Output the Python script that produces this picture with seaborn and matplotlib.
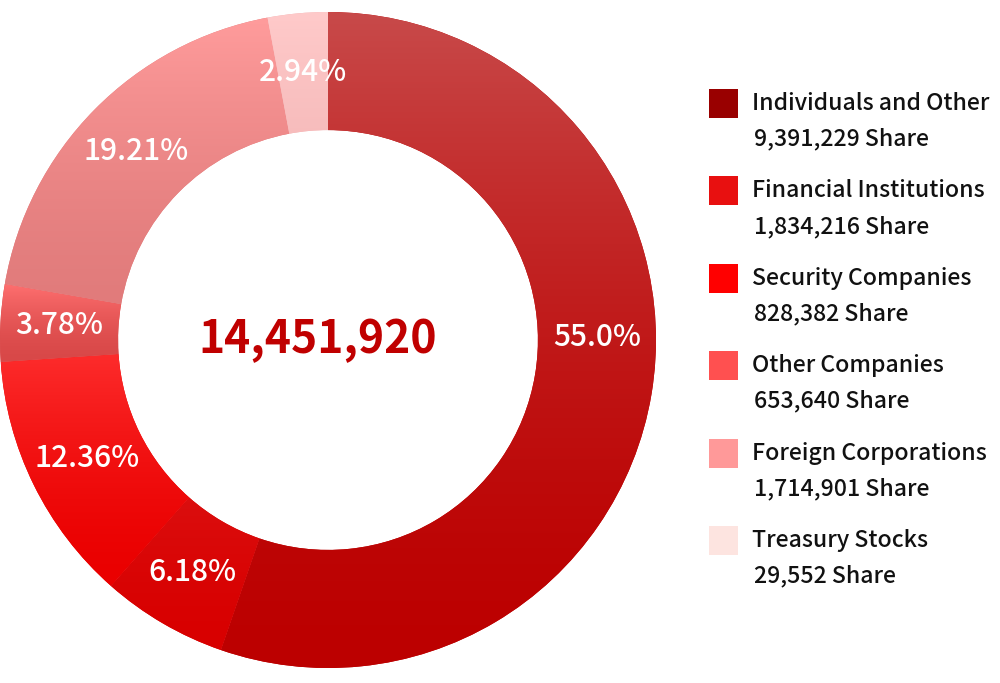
import numpy as np
import matplotlib.pyplot as plt
import matplotlib.colors as mcolors
from matplotlib.patches import Rectangle
import seaborn as sns

sns.set_style('white')
plt.rcParams['font.family'] = ['Noto Sans CJK JP', 'DejaVu Sans']

categories = ['Individuals and Other', 'Financial Institutions', 'Security Companies',
              'Other Companies', 'Foreign Corporations', 'Treasury Stocks']
shares = ['9,391,229', '1,834,216', '828,382', '653,640', '1,714,901', '29,552']
percents = [55.0, 6.18, 12.36, 3.78, 19.21, 2.94]
pct_labels = ['55.0%', '6.18%', '12.36%', '3.78%', '19.21%', '2.94%']
total_label = '14,451,920'

legend_colors = ['#990000', '#e81010', '#ff0000', '#ff5050', '#ff9999', '#fde4e0']
grad_top = ['#c84a4a', '#e22e2e', '#ff3030', '#ff7070', '#ff9c9c', '#ffcaca']
grad_bottom = ['#bc0000', '#d80000', '#ea0000', '#d84848', '#e07a7a', '#f0b0b0']

fig = plt.figure(figsize=(10, 6.83), dpi=100)
ax = fig.add_axes([0, 15 / 683, 656 / 1000, 656 / 683])

wedges, _ = ax.pie(percents, radius=1, startangle=90, counterclock=False,
                   colors=grad_bottom, wedgeprops=dict(width=0.36, linewidth=0))

# vertical gradient inside each wedge
for w, ctop, cbot in zip(wedges, grad_top, grad_bottom):
    verts = w.get_path().vertices
    x0, x1 = verts[:, 0].min(), verts[:, 0].max()
    y0, y1 = verts[:, 1].min(), verts[:, 1].max()
    t = np.linspace(0, 1, 256)[:, None] ** 1.6
    c0 = np.array(mcolors.to_rgb(cbot))
    c1 = np.array(mcolors.to_rgb(ctop))
    img = (c0 + (c1 - c0) * t)[:, None, :].repeat(2, axis=1)
    im = ax.imshow(img, extent=[x0, x1, y0, y1], origin='lower',
                   aspect='auto', interpolation='bilinear', zorder=2)
    im.set_clip_path(w)

# percentage labels
for i, (w, lab) in enumerate(zip(wedges, pct_labels)):
    ang = np.deg2rad((w.theta1 + w.theta2) / 2)
    if i == 0:
        ang += np.deg2rad(10)
    ax.text(0.82 * np.cos(ang), 0.82 * np.sin(ang), lab, ha='center', va='center',
            color='white', fontsize=21.5, fontweight='medium', zorder=5)

ax.text(-0.03, 0.0, total_label, ha='center', va='center', color='#c00000',
        fontsize=32, fontweight='bold', zorder=5)

ax.set_xlim(-1, 1)
ax.set_ylim(-1, 1)
ax.set_aspect('equal')
ax.axis('off')

# legend drawn in pixel coordinates
lax = fig.add_axes([0, 0, 1, 1])
lax.set_xlim(0, 1000)
lax.set_ylim(683, 0)
lax.axis('off')
for i, (cat, sh, col) in enumerate(zip(categories, shares, legend_colors)):
    y = 89 + 87.4 * i
    lax.add_patch(Rectangle((709, y), 29, 29, facecolor=col, edgecolor='none'))
    lax.text(752, y + 14.5, cat, ha='left', va='center', fontsize=16.6,
             fontweight='medium', color='#111111')
    lax.text(754, y + 50, sh + ' Share', ha='left', va='center', fontsize=16.6,
             fontweight='medium', color='#111111')

fig.savefig('out.png', dpi=100, facecolor='white')
